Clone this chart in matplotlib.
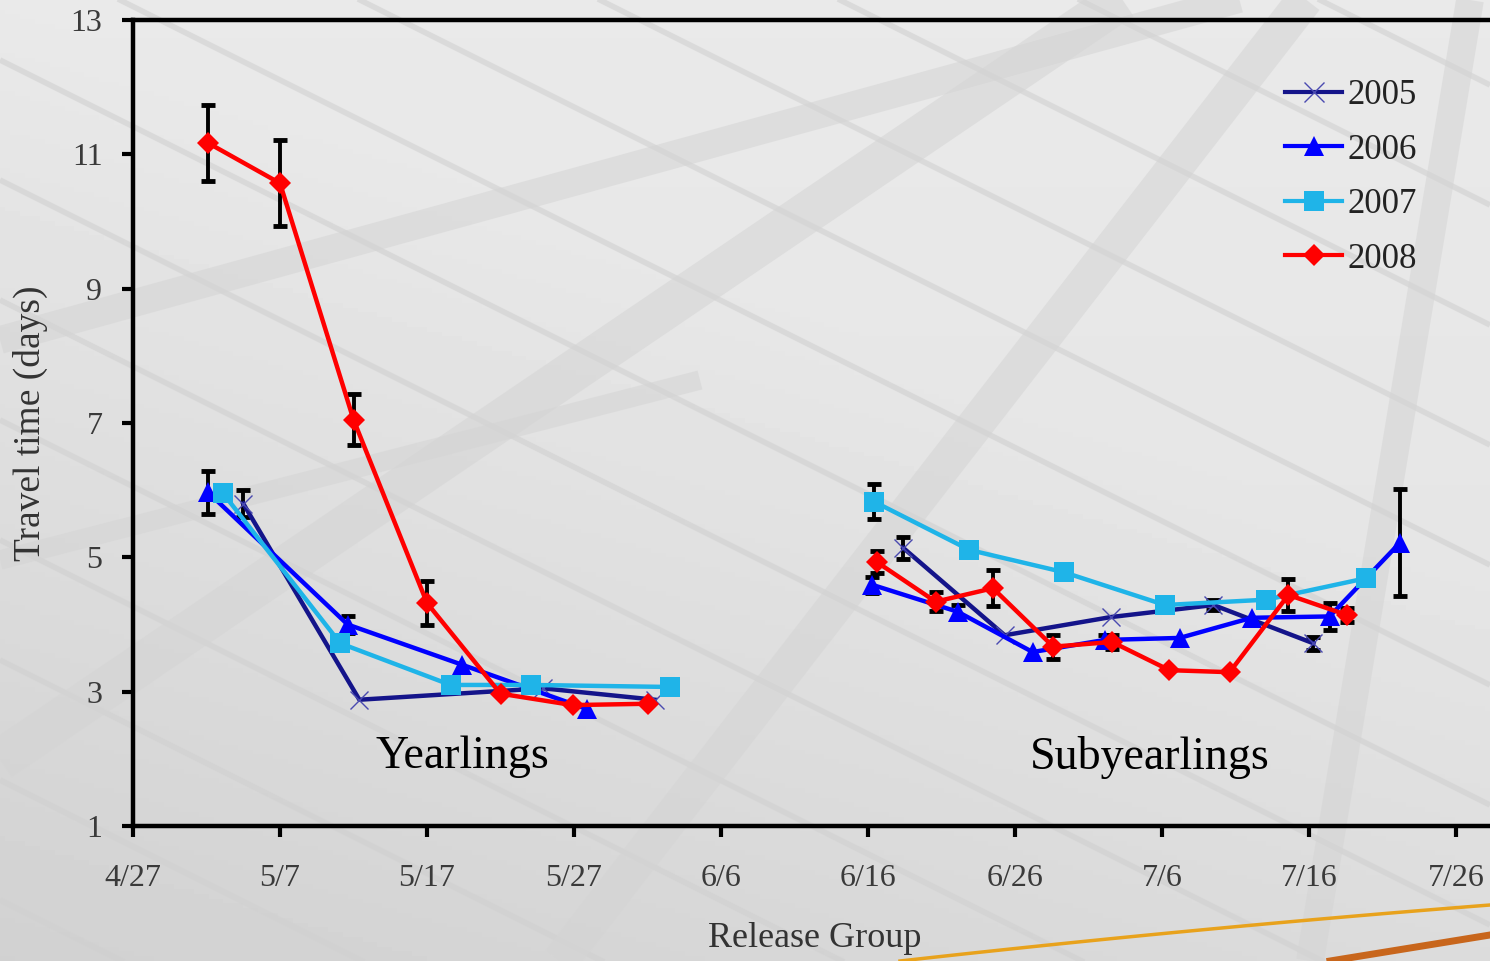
import numpy as np
import matplotlib
matplotlib.use('Agg')
import matplotlib.pyplot as plt

plt.rcParams['font.family'] = ['Liberation Serif', 'DejaVu Serif']

# release day, counted in days after 4/27
year_labels = ['2005', '2006', '2007', '2008']
year_colors = ['#14148a', '#0000ff', '#1fb4e8', '#ff0000']
year_markers = ['x', '^', 's', 'D']

# Yearlings
yr_day = {
    '2005': [7.5, 15.4, 27.9, 35.5],
    '2006': [5.1, 14.6, 22.4, 30.9],
    '2007': [6.1, 14.1, 21.6, 27.1, 36.5],
    '2008': [5.1, 10.0, 15.0, 20.0, 25.0, 29.9, 35.0],
}
yr_val = {
    '2005': [5.80, 2.88, 3.05, 2.88],
    '2006': [5.97, 4.00, 3.40, 2.74],
    '2007': [5.96, 3.72, 3.10, 3.10, 3.07],
    '2008': [11.17, 10.57, 7.05, 4.32, 2.97, 2.80, 2.82],
}
yr_err = {
    '2005': [0.20, 0, 0, 0],
    '2006': [0.32, 0.13, 0, 0],
    '2007': [0, 0, 0, 0, 0],
    '2008': [0.57, 0.64, 0.38, 0.33, 0, 0, 0],
}

# Subyearlings
sub_day = {
    '2005': [52.4, 59.3, 66.5, 73.5, 80.3],
    '2006': [50.3, 56.1, 61.2, 66.1, 71.2, 76.1, 81.4, 86.2],
    '2007': [50.4, 56.9, 63.3, 70.2, 77.1, 83.9],
    '2008': [50.6, 54.6, 58.5, 62.6, 66.6, 70.5, 74.6, 78.6, 82.6],
}
sub_val = {
    '2005': [5.14, 3.84, 4.11, 4.29, 3.72],
    '2006': [4.59, 4.19, 3.59, 3.77, 3.80, 4.10, 4.12, 5.22],
    '2007': [5.83, 5.11, 4.78, 4.29, 4.37, 4.69],
    '2008': [4.93, 4.34, 4.54, 3.67, 3.74, 3.32, 3.29, 4.44, 4.14],
}
sub_err = {
    '2005': [0.16, 0, 0, 0.08, 0.10],
    '2006': [0.12, 0.10, 0, 0.08, 0, 0, 0.20, 0.80],
    '2007': [0.26, 0, 0, 0, 0, 0],
    '2008': [0.17, 0.14, 0.27, 0.18, 0.10, 0, 0, 0.24, 0.10],
}

tick_days = [0, 10, 20, 30, 40, 50, 60, 70, 80, 90]
tick_labels = ['4/27', '5/7', '5/17', '5/27', '6/6', '6/16', '6/26', '7/6', '7/16', '7/26']

marker_size = {'x': 13, '^': 14, 's': 15, 'D': 11.5}

W, H = 1490, 961
fig = plt.figure(figsize=(W / 100, H / 100), dpi=100)
fig.patch.set_facecolor('#e2e2e2')

# slide background: soft grey shading with a roof-like grid of bands
bg = fig.add_axes([0, 0, 1, 1], zorder=-10)
bg.set_xlim(0, W)
bg.set_ylim(H, 0)
bg.axis('off')
gx, gy = np.meshgrid(np.linspace(0, 1, 300), np.linspace(0, 1, 200))
shade = 0.915 - 0.07 * np.clip(gy - gx * 0.6, 0, 1) - 0.025 * gy
bg.imshow(shade, cmap='gray', vmin=0, vmax=1, extent=(0, W, H, 0), aspect='auto')
for off in range(-900, 1000, 120):
    bg.plot([0, W], [off, off + W * 0.5], color='#d0d0d0', lw=4, alpha=0.6,
            solid_capstyle='butt')
broad = [((0, 340), (W, -70), 20), ((0, 760), (1150, -20), 30),
         ((560, H), (1320, -20), 26), ((1310, H), (1470, 0), 20),
         ((0, 560), (700, 380), 14)]
for (x0, y0), (x1, y1), lw in broad:
    bg.plot([x0, x1], [y0, y1], color='#d4d4d4', lw=lw, alpha=0.55,
            solid_capstyle='butt')
t = np.linspace(0, 1, 50)
bg.plot(900 + 590 * t, 961 - 56 * t - 10 * t * (1 - t), color='#e8a21c', lw=2.5)
bg.plot(1330 + 160 * t, 961 - 26 * t, color='#c8661c', lw=5)

ax = fig.add_axes([133 / W, (H - 826) / H, (W - 133) / W, 806 / H])
ax.set_facecolor('none')

for yr, col, mk in zip(year_labels, year_colors, year_markers):
    for days, vals, errs in ((yr_day[yr], yr_val[yr], yr_err[yr]),
                             (sub_day[yr], sub_val[yr], sub_err[yr])):
        d = np.array(days)
        v = np.array(vals)
        e = np.array(errs)
        m = e > 0
        if m.any():
            ax.errorbar(d[m], v[m], yerr=e[m], fmt='none', ecolor='black',
                        elinewidth=2.8, capsize=5, capthick=3.5, zorder=2)
        if mk == 'x':
            ax.plot(d, v, color=col, lw=3.2, marker=mk, ms=marker_size[mk],
                    mew=1.0, mec='#4a4ab0', zorder=3)
        else:
            ax.plot(d, v, color=col, lw=3.2, marker=mk, ms=marker_size[mk],
                    mew=0, zorder=3)

# legend proxies, one per year
handles = []
for yr, col, mk in zip(year_labels, year_colors, year_markers):
    if mk == 'x':
        h, = ax.plot([], [], color=col, lw=3, marker=mk, ms=15, mew=1.0, mec='#4a4ab0')
    else:
        h, = ax.plot([], [], color=col, lw=3, marker=mk, ms=marker_size[mk], mew=0)
    handles.append(h)
ax.legend(handles, year_labels, loc='upper left',
          bbox_to_anchor=((1285 - 133) / 1357, (826 - 79) / 806),
          frameon=False, fontsize=25, handlelength=1.65, handletextpad=0.15,
          labelspacing=0.62, borderpad=0, borderaxespad=0, labelcolor='#222222')

ax.set_xlim(0, (W - 133) / 14.7)
ax.set_ylim(1, 13)
ax.set_xticks(tick_days)
ax.set_xticklabels(tick_labels)
ax.set_yticks([1, 3, 5, 7, 9, 11, 13])
ax.tick_params(axis='both', direction='out', length=8, width=3, colors='black',
               labelsize=23, labelcolor='#3a3a3a')
ax.tick_params(axis='x', pad=19)
ax.tick_params(axis='y', pad=14)
for s in ('left', 'bottom', 'top'):
    ax.spines[s].set_linewidth(3.2)
ax.spines['right'].set_visible(False)

ax.set_ylabel('Travel time (days)', fontsize=27, color='#333333')
ax.yaxis.set_label_coords((48 - 133) / 1357, 0.5)
ax.set_xlabel('Release Group', fontsize=26, color='#333333')
ax.xaxis.set_label_coords((815 - 133) / 1357, (826 - 922) / 806)

ax.text(0.2424, 0.0856, 'Yearlings', transform=ax.transAxes, ha='center',
        va='center', fontsize=33, color='black')
ax.text(0.7494, 0.0856, 'Subyearlings', transform=ax.transAxes, ha='center',
        va='center', fontsize=33, color='black')

fig.savefig('out.png', dpi=100)
